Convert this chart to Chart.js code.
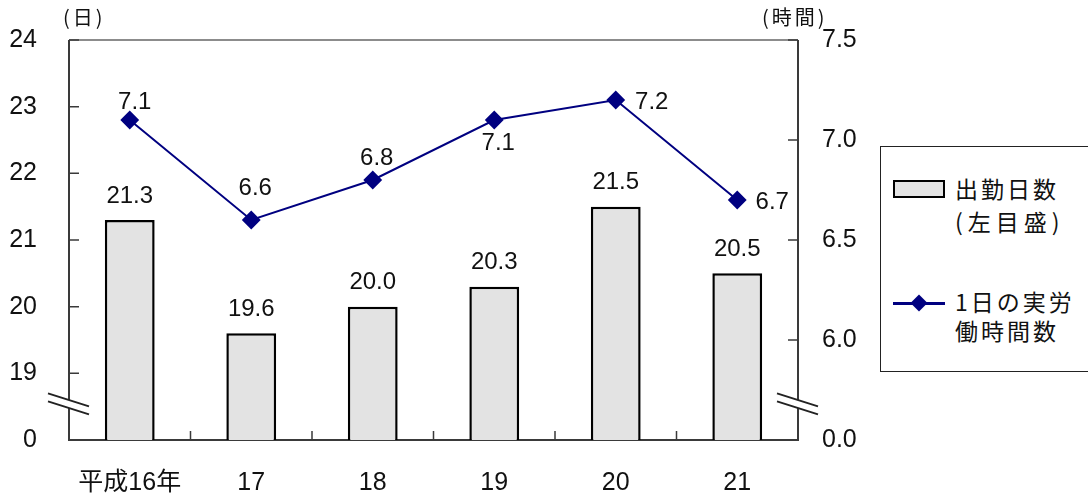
<!DOCTYPE html>
<html>
<head>
<meta charset="utf-8">
<script src="https://cdn.jsdelivr.net/npm/chart.js@4.4.0/dist/chart.umd.min.js"></script>
<style>
  body { margin: 0; background: #fff; }
  #wrap { position: relative; width: 1088px; height: 497px; overflow: hidden; font-family: "Liberation Sans", "Noto Sans CJK JP", sans-serif; color: #111; }
  #myChart { position: absolute; left: 0; top: 0; }
  .unit { position: absolute; font-size: 20px; font-family: "Noto Sans CJK JP", sans-serif; line-height: 22px; letter-spacing: 3px; }
  #legend { position: absolute; left: 880px; top: 146px; width: 210px; height: 226px; border: 1.5px solid #222; box-sizing: border-box; background: #fff; }
  .leg-text { position: absolute; left: 74px; font-size: 23px; font-family: "Noto Sans CJK JP", sans-serif; line-height: 30px; letter-spacing: 3px; }
  .swatch-bar { position: absolute; left: 12px; top: 33px; width: 48px; height: 14px; background: #e3e3e3; border: 2.5px solid #000; }
  .swatch-line { position: absolute; left: 12px; top: 155px; width: 52px; height: 2.5px; background: #000080; }
  .swatch-dot { position: absolute; left: 32px; top: 150px; width: 12px; height: 12px; background: #000080; transform: rotate(45deg); }
</style>
</head>
<body>
<div id="wrap">
  <canvas id="myChart" width="1088" height="497"></canvas>
  <div class="unit" style="left:63px; top:6px;">(日)</div>
  <div class="unit" style="left:762px; top:6px;">(時間)</div>
  <div id="legend">
    <div class="swatch-bar"></div>
    <div class="leg-text" style="top:26px;">出勤日数</div>
    <div class="leg-text" style="top:59px; letter-spacing:5px;">(左目盛)</div>
    <div class="swatch-line"></div>
    <div class="swatch-dot"></div>
    <div class="leg-text" style="top:139px;">1日の実労</div>
    <div class="leg-text" style="top:168px;">働時間数</div>
  </div>
</div>
<script>
'use strict';

// data
let years = ['平成16年', '17', '18', '19', '20', '21'];
let workDays = [21.3, 19.6, 20.0, 20.3, 21.5, 20.5];
let hoursPerDay = [7.1, 6.6, 6.8, 7.1, 7.2, 6.7];

// tick labels (the bottom step of each axis stands for 0 after the break)
let leftTickLabels = ['0', '19', '20', '21', '22', '23', '24'];
let rightTickLabels = ['0.0', '6.0', '6.5', '7.0', '7.5'];

let numFont = '"Liberation Sans", "Noto Sans CJK JP", sans-serif';

// where each line label sits relative to its point
let lineLabelOffsets = [[5, -18], [4, -32], [4, -22], [4, 23], [36, 2], [35, 2]];

let ctx = document.getElementById('myChart');

// frame, inward ticks and labels
let framePlugin = {
  id: 'frame',
  beforeDatasetsDraw(chart) {
    let c = chart.ctx;
    let a = chart.chartArea;
    let x = chart.scales.x;
    let y = chart.scales.y;
    let y2 = chart.scales.y2;
    c.save();
    c.lineWidth = 2;
    c.strokeStyle = '#8c8c8c';
    c.beginPath();
    c.moveTo(a.left, a.top);
    c.lineTo(a.right, a.top);
    c.stroke();

    c.strokeStyle = '#3a3a3a';
    c.beginPath();
    c.moveTo(a.left, a.top);
    c.lineTo(a.left, a.bottom);
    c.lineTo(a.right, a.bottom);
    c.lineTo(a.right, a.top);
    c.stroke();

    c.lineWidth = 1.5;
    c.beginPath();
    y.ticks.forEach(function (t, i) {
      if (i === 0) return;
      let py = y.getPixelForValue(t.value);
      c.moveTo(a.left, py);
      c.lineTo(a.left + 10, py);
    });
    y2.ticks.forEach(function (t, i) {
      if (i === 0) return;
      let py = y2.getPixelForValue(t.value);
      c.moveTo(a.right, py);
      c.lineTo(a.right - 10, py);
    });
    for (let i = 1; i < years.length; i++) {
      let px = (x.getPixelForValue(i - 1) + x.getPixelForValue(i)) / 2;
      c.moveTo(px, a.bottom);
      c.lineTo(px, a.bottom - 9);
    }
    c.stroke();
    c.restore();
  },
  afterDatasetsDraw(chart) {
    let c = chart.ctx;
    c.save();
    c.font = '24px ' + numFont;
    c.fillStyle = '#111';
    c.textAlign = 'center';
    c.textBaseline = 'middle';

    let barMeta = chart.getDatasetMeta(1);
    barMeta.data.forEach(function (bar, i) {
      c.fillText(workDays[i].toFixed(1), bar.x, bar.y - 24);
    });

    let lineMeta = chart.getDatasetMeta(0);
    lineMeta.data.forEach(function (pt, i) {
      let off = lineLabelOffsets[i];
      c.fillText(hoursPerDay[i].toFixed(1), pt.x + off[0], pt.y + off[1]);
    });
    c.restore();
  },
  afterDraw(chart) {
    // axis break marks
    let c = chart.ctx;
    let a = chart.chartArea;
    let py = chart.scales.y.getPixelForValue(18.55);
    c.save();
    [a.left, a.right].forEach(function (px) {
      c.fillStyle = '#fff';
      c.beginPath();
      c.moveTo(px - 21, py - 10);
      c.lineTo(px + 20, py + 3);
      c.lineTo(px + 20, py + 11);
      c.lineTo(px - 21, py - 2);
      c.closePath();
      c.fill();
      c.strokeStyle = '#222';
      c.lineWidth = 2;
      c.beginPath();
      c.moveTo(px - 21, py - 10);
      c.lineTo(px + 20, py + 3);
      c.moveTo(px - 21, py - 2);
      c.lineTo(px + 20, py + 11);
      c.stroke();
    });
    c.restore();
  }
};

function fitVertical(w) {
  return function (scale) {
    scale.width = w;
    scale.paddingTop = 0;
    scale.paddingBottom = 0;
  };
}

let myChartObj = {
  type: 'bar',
  data: {
    labels: years,
    datasets: [{
      type: 'line',
      label: '1日の実労働時間数',
      data: hoursPerDay,
      yAxisID: 'y2',
      borderColor: '#000080',
      backgroundColor: '#000080',
      borderWidth: 2,
      pointStyle: 'rectRot',
      pointRadius: 8,
      pointHoverRadius: 8,
      order: 0
    },
    {
      type: 'bar',
      label: '出勤日数（左目盛）',
      data: workDays,
      yAxisID: 'y',
      backgroundColor: '#e3e3e3',
      borderColor: '#000',
      borderWidth: 2.5,
      barPercentage: 0.41,
      categoryPercentage: 1,
      order: 1
    }]
  },
  options: {
    responsive: false,
    animation: false,
    layout: {
      padding: { left: 0, right: 230, top: 40, bottom: 0 }
    },
    plugins: {
      legend: { display: false },
      tooltip: { enabled: false }
    },
    scales: {
      x: {
        grid: { display: false, drawTicks: false },
        border: { display: false },
        ticks: {
          color: '#111',
          padding: 28,
          font: { size: 25, family: numFont }
        },
        afterFit: function (scale) { scale.height = 57; }
      },
      y: {
        position: 'left',
        min: 18,
        max: 24,
        grid: { display: false, drawTicks: false },
        border: { display: false },
        ticks: {
          stepSize: 1,
          color: '#111',
          padding: 32,
          font: { size: 25, family: numFont },
          callback: function (v, i) { return leftTickLabels[i]; }
        },
        afterFit: fitVertical(69)
      },
      y2: {
        position: 'right',
        min: 5.5,
        max: 7.5,
        grid: { display: false, drawTicks: false },
        border: { display: false },
        ticks: {
          stepSize: 0.5,
          color: '#111',
          padding: 24,
          font: { size: 25, family: numFont },
          callback: function (v, i) { return rightTickLabels[i]; }
        },
        afterFit: fitVertical(60)
      }
    }
  },
  plugins: [framePlugin]
};

new Chart(ctx, myChartObj);
</script>
</body>
</html>
